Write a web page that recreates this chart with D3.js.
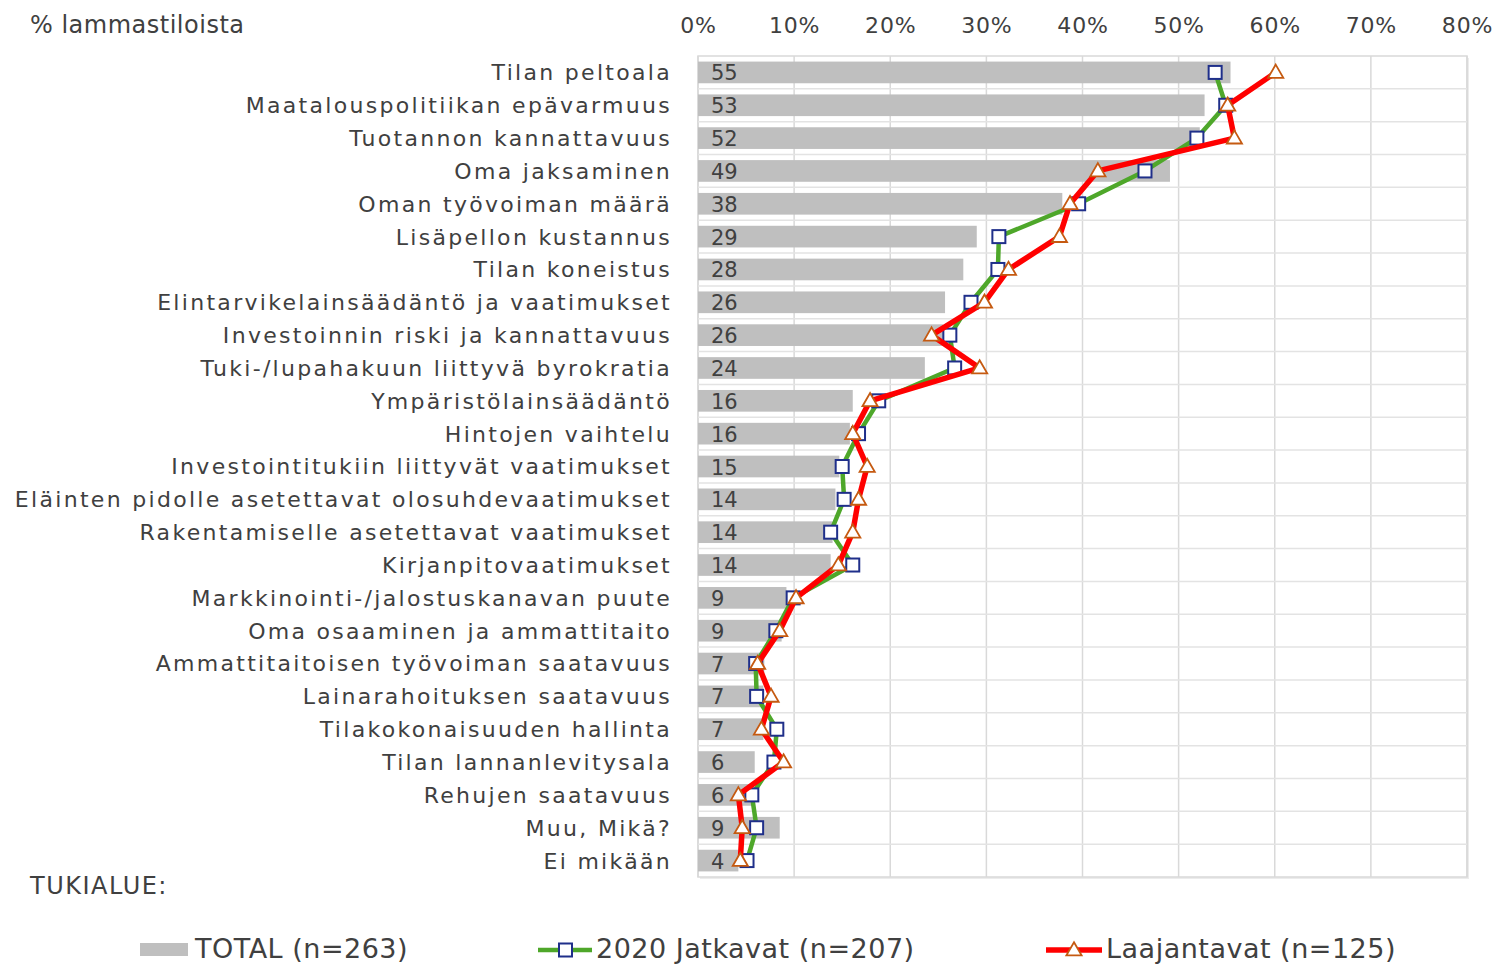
<!DOCTYPE html>
<html>
<head>
<meta charset="utf-8">
<script src="https://cdn.jsdelivr.net/npm/d3@7"></script>
<style>
  body { margin: 0; background: #fff; }
  text { font-family: "DejaVu Sans", Verdana, sans-serif; fill: #404040; }
</style>
</head>
<body>
<div id="chart"></div>
<script>
// categories, top to bottom
var categories = [
  "Tilan peltoala", "Maatalouspolitiikan epävarmuus", "Tuotannon kannattavuus",
  "Oma jaksaminen", "Oman työvoiman määrä", "Lisäpellon kustannus",
  "Tilan koneistus", "Elintarvikelainsäädäntö ja vaatimukset",
  "Investoinnin riski ja kannattavuus", "Tuki-/lupahakuun liittyvä byrokratia",
  "Ympäristölainsäädäntö", "Hintojen vaihtelu", "Investointitukiin liittyvät vaatimukset",
  "Eläinten pidolle asetettavat olosuhdevaatimukset", "Rakentamiselle asetettavat vaatimukset",
  "Kirjanpitovaatimukset", "Markkinointi-/jalostuskanavan puute",
  "Oma osaaminen ja ammattitaito", "Ammattitaitoisen työvoiman saatavuus",
  "Lainarahoituksen saatavuus", "Tilakokonaisuuden hallinta", "Tilan lannanlevitysala",
  "Rehujen saatavuus", "Muu, Mikä?", "Ei mikään"
];
// TOTAL (n=263), %
var total = [55.4, 52.7, 52.2, 49.1, 37.9, 29.0, 27.6, 25.7, 25.5, 23.6,
             16.1, 15.8, 14.7, 14.3, 14.0, 13.8, 9.2, 8.7, 6.9, 6.8,
             6.8, 5.9, 5.8, 8.5, 4.2];
// 2020 Jatkavat (n=207), %
var jatkavat = [53.8, 54.9, 51.9, 46.5, 39.6, 31.3, 31.2, 28.4, 26.2, 26.7,
                18.8, 16.7, 15.0, 15.2, 13.8, 16.1, 9.9, 8.1, 6.0, 6.1,
                8.2, 7.9, 5.6, 6.1, 5.1];
// Laajantavat (n=125), %
var laajantavat = [60.1, 55.1, 55.8, 41.6, 38.7, 37.6, 32.3, 29.8, 24.3, 29.3,
                   17.9, 16.1, 17.6, 16.7, 16.1, 14.6, 10.2, 8.5, 6.2, 7.6,
                   6.6, 8.9, 4.2, 4.6, 4.4];
var xTicks = [0, 10, 20, 30, 40, 50, 60, 70, 80];
var legendLabels = ["TOTAL (n=263)", "2020 Jatkavat (n=207)", "Laajantavat (n=125)"];

var W = 1498, H = 966;
var plot = { left: 698, right: 1467, top: 56, bottom: 877 };
var condensed = "DejaVu Sans Condensed, DejaVu Sans, sans-serif";

var svg = d3.select("#chart").append("svg")
  .attr("width", W).attr("height", H);

var x = d3.scaleLinear().domain([0, 80]).range([plot.left, plot.right]);
var y = d3.scaleBand().domain(categories).range([plot.top, plot.bottom]).paddingInner(0.34).paddingOuter(0.17);
var band = d3.scaleBand().domain(categories).range([plot.top, plot.bottom]);
var cy = function(d) { return y(d) + y.bandwidth() / 2; };

// plot background with soft shadow
svg.append("rect")
  .attr("x", plot.left + 2).attr("y", plot.top + 2)
  .attr("width", plot.right - plot.left).attr("height", plot.bottom - plot.top)
  .attr("fill", "#ececec");
svg.append("rect")
  .attr("x", plot.left).attr("y", plot.top)
  .attr("width", plot.right - plot.left).attr("height", plot.bottom - plot.top)
  .attr("fill", "#fff").attr("stroke", "#d9d9d9").attr("stroke-width", 1.5);

// vertical grid
svg.append("g").selectAll("line").data(xTicks).join("line")
  .attr("x1", d => x(d)).attr("x2", d => x(d))
  .attr("y1", plot.top).attr("y2", plot.bottom)
  .attr("stroke", "#d9d9d9").attr("stroke-width", 1.5);

// horizontal grid between categories
svg.append("g").selectAll("line").data(categories.slice(1)).join("line")
  .attr("x1", plot.left).attr("x2", plot.right)
  .attr("y1", d => band(d)).attr("y2", d => band(d))
  .attr("stroke", "#e3e3e3").attr("stroke-width", 1.5);

// top axis
var xAxis = d3.axisTop(x).tickValues(xTicks).tickFormat(d => d + "%").tickSize(0).tickPadding(0);
var gx = svg.append("g").attr("transform", "translate(0,33)").call(xAxis);
gx.select(".domain").remove();
gx.selectAll("text").attr("font-size", 22).attr("font-family", condensed)
  .attr("letter-spacing", 0.8).style("fill", "#404040");

// category axis
var yAxis = d3.axisLeft(y).tickSize(0).tickPadding(26);
var gy = svg.append("g").attr("transform", "translate(" + plot.left + ",0)").call(yAxis);
gy.select(".domain").remove();
gy.selectAll("text").attr("font-size", 22).attr("dy", "0.36em")
  .attr("letter-spacing", 2.3).style("fill", "#404040");

// bars
svg.append("g").selectAll("rect").data(total).join("rect")
  .attr("x", x(0)).attr("y", (d, i) => y(categories[i]))
  .attr("width", d => x(d) - x(0)).attr("height", y.bandwidth())
  .attr("fill", "#bfbfbf");

// value labels
svg.append("g").selectAll("text").data(total).join("text")
  .attr("x", x(0) + 13).attr("y", (d, i) => cy(categories[i]) + 8)
  .attr("font-size", 21)
  .text(d => d3.format(".0f")(d));

// lines
var line = d3.line().x(d => x(d[0])).y(d => cy(d[1]));
var greenPts = jatkavat.map((v, i) => [v, categories[i]]);
var redPts = laajantavat.map((v, i) => [v, categories[i]]);

svg.append("path").datum(greenPts).attr("d", line)
  .attr("fill", "none").attr("stroke", "#4ea72a").attr("stroke-width", 4.5).attr("stroke-linejoin", "round");
svg.append("g").selectAll("rect").data(greenPts).join("rect")
  .attr("x", d => x(d[0]) - 6.5).attr("y", d => cy(d[1]) - 6.5)
  .attr("width", 13).attr("height", 13)
  .attr("fill", "#fff").attr("stroke", "#1f2f8a").attr("stroke-width", 2);

svg.append("path").datum(redPts).attr("d", line)
  .attr("fill", "none").attr("stroke", "#ff0000").attr("stroke-width", 5.5).attr("stroke-linejoin", "round");
var tri = d3.symbol().type(d3.symbolTriangle).size(100);
svg.append("g").selectAll("path").data(redPts).join("path")
  .attr("transform", d => "translate(" + x(d[0]) + "," + (cy(d[1]) + 1) + ")")
  .attr("d", tri)
  .attr("fill", "#fff").attr("stroke", "#c55a11").attr("stroke-width", 1.8);

// titles
svg.append("text").attr("x", 30).attr("y", 33)
  .attr("font-size", 24).attr("letter-spacing", 0.5)
  .text("% lammastiloista");
svg.append("text").attr("x", 30).attr("y", 894)
  .attr("font-size", 24).attr("letter-spacing", 1.5)
  .text("TUKIALUE:");

// legend
var lg = svg.append("g").attr("font-family", condensed);
var ly = 950;
lg.append("rect").attr("x", 140).attr("y", ly - 7).attr("width", 48).attr("height", 13).attr("fill", "#bfbfbf");
lg.append("line").attr("x1", 538).attr("x2", 592).attr("y1", ly).attr("y2", ly)
  .attr("stroke", "#4ea72a").attr("stroke-width", 4.5);
lg.append("rect").attr("x", 559).attr("y", ly - 6.5).attr("width", 13).attr("height", 13)
  .attr("fill", "#fff").attr("stroke", "#1f2f8a").attr("stroke-width", 2);
lg.append("line").attr("x1", 1046).attr("x2", 1102).attr("y1", ly).attr("y2", ly)
  .attr("stroke", "#ff0000").attr("stroke-width", 5.5);
lg.append("path").attr("transform", "translate(1074," + (ly + 1) + ")").attr("d", tri)
  .attr("fill", "#fff").attr("stroke", "#c55a11").attr("stroke-width", 1.8);
lg.selectAll("text.lbl").data(legendLabels).join("text").attr("class", "lbl")
  .attr("x", (d, i) => [195, 596, 1106][i]).attr("y", ly + 8)
  .attr("font-size", 27).attr("letter-spacing", 0.5)
  .text(d => d);
</script>
</body>
</html>
